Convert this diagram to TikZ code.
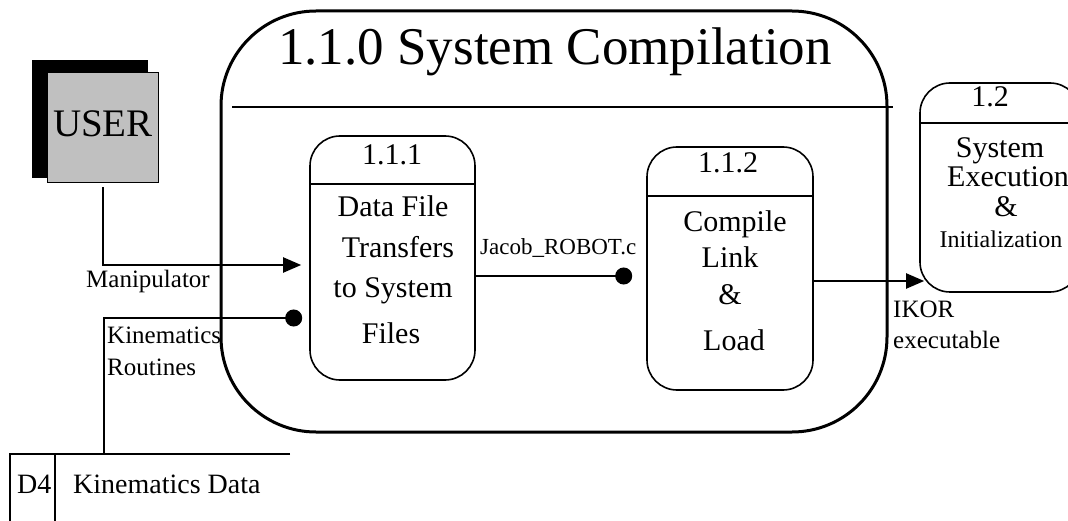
\documentclass[tikz,border=0pt]{standalone}
\usepackage{fontspec}
\setmainfont{Liberation Serif}
\usetikzlibrary{arrows.meta}
\begin{document}
\begin{tikzpicture}[x=1pt,y=-1pt,
  proc/.style={draw, line width=1.6pt, rounded corners=30pt, inner sep=0pt},
  hdr/.style={line width=1.6pt},
  ptext/.style={font=\fontsize{30}{36}\selectfont, anchor=base, inner sep=0pt},
  lab/.style={font=\fontsize{25}{30}\selectfont, anchor=base west, inner sep=0pt},
  flow/.style={line width=2pt, -{Triangle[length=18pt,width=15pt]}},
  dflow/.style={line width=2pt, -{Circle[length=17pt]}},
]
\useasboundingbox (0,0) rectangle (1068,521);
\fill[white] (0,0) rectangle (1068,521);

% ---- 1.1.0 container ----
\node[draw, line width=3pt, rounded corners=95pt, minimum width=666pt, minimum height=421pt, inner sep=0pt] (c110) at (554,221.5) {};
\node[font=\fontsize{53}{60}\selectfont, anchor=base, inner sep=0pt] (t110) at (555,65) {1.1.0 System Compilation};
\coordinate (tl1) at (232,107);
\coordinate (tl2) at (893,107);
\draw[line width=2pt] (tl1) -- (tl2);

% ---- external entity USER ----
\fill (32,60) rectangle (148,178);
\node[draw, line width=1pt, fill={rgb,255:red,192;green,192;blue,192}, minimum width=111pt, minimum height=110pt, inner sep=0pt] (user) at (102.5,128) {};
\node[font=\fontsize{39}{46}\selectfont, anchor=base, inner sep=0pt] (usertxt) at (103,137) {USER};

% ---- process 1.1.1 ----
\node[proc, minimum width=165pt, minimum height=244pt] (p111) at (392.5,258) {};
\coordinate (h111) at (0,184);
\draw[hdr] (p111.west |- h111) -- (p111.east |- h111);
\node[ptext] (n111) at (392,165) {1.1.1};
\node[ptext] (a111) at (393,217) {Data File};
\node[ptext] (b111) at (398,258) {Transfers};
\node[ptext] (c111) at (393,298) {to System};
\node[ptext] (d111) at (391,343) {Files};

% ---- process 1.1.2 ----
\node[proc, minimum width=166pt, minimum height=243pt] (p112) at (730,268.5) {};
\coordinate (h112) at (0,196);
\draw[hdr] (p112.west |- h112) -- (p112.east |- h112);
\node[ptext] (n112) at (728,173) {1.1.2};
\node[ptext] (a112) at (735,232) {Compile};
\node[ptext] (b112) at (730,268) {Link};
\node[ptext] (c112) at (730,305) {\&};
\node[ptext] (d112) at (734,350) {Load};

% ---- process 1.2 ----
\node[proc, minimum width=160pt, minimum height=209pt] (p12) at (1000,187.5) {};
\coordinate (h12) at (0,123);
\draw[hdr] (p12.west |- h12) -- (p12.east |- h12);
\node[ptext] (n12) at (990,107) {1.2};
\node[ptext] (a12) at (1000,158) {System};
\node[ptext] (b12) at (1008,187) {Execution};
\node[ptext] (c12) at (1006,217) {\&};
\node[ptext, font=\fontsize{24}{29}\selectfont] (d12) at (1001,248) {Initialization};

% ---- data store D4 ----
\coordinate (s1) at (10,454);
\coordinate (s2) at (290,454);
\coordinate (s3) at (10,530);
\coordinate (s4) at (55,454);
\coordinate (s5) at (55,530);
\draw[line width=1.6pt] (s2) -- (s1) -- (s3);
\draw[line width=1.6pt] (s4) -- (s5);
\node[font=\fontsize{28}{34}\selectfont, anchor=base west, inner sep=0pt] (d4id) at (17,493) {D4};
\node[font=\fontsize{28}{34}\selectfont, anchor=base west, inner sep=0pt] (d4name) at (73,493) {Kinematics Data};
\coordinate (ds) at (104,454);

% ---- flows ----
\coordinate (m1) at (0,265);
\draw[flow, shorten <=4pt, shorten >=8pt] (user.south) |- (p111.west |- m1);
\node[lab] (lman) at (86,288) {Manipulator};

\coordinate (k1) at (0,318);
\draw[dflow, shorten >=7pt] (ds) |- (p111.west |- k1);
\node[lab] (lkin1) at (107,343) {Kinematics};
\node[lab] (lkin2) at (107,375) {Routines};

\coordinate (j1) at (0,276);
\draw[dflow, shorten >=14pt] (p111.east |- j1) -- (p112.west |- j1);
\node[lab, font=\fontsize{23}{28}\selectfont] (ljac) at (480,255) {Jacob\_ROBOT.c};

\coordinate (i1) at (0,281);
\draw[flow, shorten >=-5pt] (p112.east |- i1) -- (p12.west |- i1);
\node[lab] (likor1) at (893,317) {IKOR};
\node[lab] (likor2) at (893,348) {executable};
\end{tikzpicture}
\end{document}
